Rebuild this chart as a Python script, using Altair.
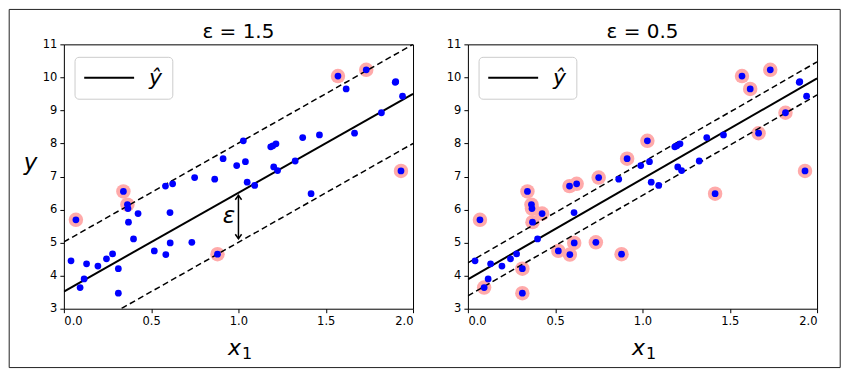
import altair as alt
import pandas as pd

# ---- data ----
x_vals = [0.749, 1.901, 1.464, 1.197, 0.312, 0.312, 0.116, 1.732, 1.202, 1.416,
          0.041, 1.940, 1.665, 0.425, 0.364, 0.367, 0.608, 1.050, 0.864, 0.582,
          1.224, 0.279, 0.584, 0.733, 0.912, 1.570, 0.399, 1.028, 1.185, 0.093,
          1.215, 0.341, 0.130, 1.898, 1.931, 1.617, 0.609, 0.195, 1.368, 0.880,
          0.244, 0.990, 0.069, 1.819, 0.518, 1.325, 0.623, 1.040, 1.093, 0.370]
y_vals = [6.97, 9.87, 8.26, 7.93, 4.21, 3.47, 3.90, 10.23, 7.29, 6.48,
          4.45, 9.43, 8.31, 5.88, 6.15, 6.03, 5.91, 6.83, 6.92, 6.71,
          7.18, 4.66, 4.64, 5.01, 7.54, 10.04, 5.11, 8.08, 7.90, 3.64,
          7.99, 6.55, 4.36, 9.85, 7.17, 9.65, 4.99, 4.29, 8.18, 4.65,
          4.51, 7.33, 5.69, 8.93, 4.75, 7.47, 6.78, 7.45, 6.73, 5.62]

sv_left = [42, 31, 14, 39, 25, 7, 34]
sv_right = [42, 29, 4, 5, 31, 14, 15, 49, 13, 44, 19, 22, 46, 36, 23, 0, 39,
            24, 27, 9, 25, 35, 12, 7, 43, 34]

line_x = [0.0, 2.0]
left_pred = [3.52, 9.50]
left_upper = [5.02, 11.00]
left_lower = [2.02, 8.00]
right_pred = [3.89, 9.97]
right_upper = [4.39, 10.47]
right_lower = [3.39, 9.47]

titles = ["ε = 1.5", "ε = 0.5"]
legend_label = "ŷ"
x_title = "x"
x_title_sub = "1"
y_title = "y"
x_ticks = [0.0, 0.5, 1.0, 1.5, 2.0]
y_ticks = [3, 4, 5, 6, 7, 8, 9, 10, 11]

eps_arrow_x = 1.0
eps_arrow_top = 6.43
eps_arrow_bottom = 5.12
eps_text_x = 0.91
eps_text_y = 5.6
eps_text = "ε"

points = pd.DataFrame({"x": x_vals, "y": y_vals})


def panel(title, pred, upper, lower, sv_idx, show_ytitle, annotate):
    x_enc = alt.X("x:Q", scale=alt.Scale(domain=[0, 2], nice=False, zero=False),
                  axis=alt.Axis(values=x_ticks, format=".1f", title=x_title,
                                titleFontSize=22, titleFontStyle="italic",
                                titleFontWeight="normal", titleBaseline="alphabetic",
                                titleAlign="left", titleX=164, titleY=45.5))
    y_axis = dict(values=y_ticks, format="d")
    if show_ytitle:
        y_axis.update(title=y_title, titleFontSize=23, titleFontStyle="italic",
                      titleFontWeight="normal", titleAngle=0, titleAlign="center",
                      titleBaseline="alphabetic", titleX=-34, titleY=125)
    else:
        y_axis.update(title=None)
    y_enc = alt.Y("y:Q", scale=alt.Scale(domain=[3, 11], nice=False, zero=False),
                  axis=alt.Axis(**y_axis))

    sv = points.iloc[sv_idx]
    pred_df = pd.DataFrame({"x": line_x, "y": pred, "series": [legend_label] * 2})
    dash_df = pd.DataFrame({"x": line_x * 2, "y": upper + lower,
                            "kind": ["upper"] * 2 + ["lower"] * 2})

    pink = alt.Chart(sv).mark_circle(size=210, color="#FFAAAA", opacity=1).encode(x=x_enc, y=y_enc)
    dashed = alt.Chart(dash_df).mark_line(strokeWidth=1.5, strokeDash=[6, 3.5],
                                          color="black", clip=True).encode(
        x=x_enc, y=y_enc, detail="kind:N")
    solid = alt.Chart(pred_df).mark_line(strokeWidth=2, clip=True).encode(
        x=x_enc, y=y_enc,
        color=alt.Color("series:N", scale=alt.Scale(domain=[legend_label], range=["black"]),
                        legend=alt.Legend(title=None, orient="none", legendX=10.7, legendY=12.5,
                                          symbolType="M -3 0 L 3 0", symbolSize=278,
                                          symbolOffset=13.7,
                                          symbolStrokeWidth=2, labelFontSize=22,
                                          labelFont="DejaVu Sans", labelFontStyle="italic",
                                          labelColor="black", labelOffset=29, padding=10,
                                          fillColor="rgba(255,255,255,0.8)",
                                          strokeColor="#cccccc", cornerRadius=4)))
    blue = alt.Chart(points).mark_circle(size=46, color="#0000FF", opacity=1).encode(x=x_enc, y=y_enc)
    ttl = alt.Chart(pd.DataFrame({"t": [title]})).mark_text(
        align="center", baseline="alphabetic", fontSize=20, font="DejaVu Sans",
        color="black").encode(x=alt.value(175), y=alt.value(-6.2), text="t:N")
    sub = alt.Chart(pd.DataFrame({"t": [x_title_sub]})).mark_text(
        align="left", baseline="alphabetic", fontSize=16, font="DejaVu Sans",
        color="black").encode(x=alt.value(178.5), y=alt.value(315.8), text="t:N")

    layers = [pink, dashed, solid, blue, ttl, sub]
    if annotate:
        arr = pd.DataFrame({"x": [eps_arrow_x], "y": [eps_arrow_top], "y2": [eps_arrow_bottom]})
        shaft = alt.Chart(arr).mark_rule(color="black", strokeWidth=1.5).encode(
            x=x_enc, y=y_enc, y2="y2:Q")
        top_head = alt.Chart(pd.DataFrame({"x": [eps_arrow_x], "y": [eps_arrow_top]})).mark_point(
            shape="M -1 1.4 L 0 0 L 1 1.4", size=40, filled=False, color="black",
            strokeWidth=1.5, opacity=1).encode(x=x_enc, y=y_enc)
        bot_head = alt.Chart(pd.DataFrame({"x": [eps_arrow_x], "y": [eps_arrow_bottom]})).mark_point(
            shape="M -1 -1.4 L 0 0 L 1 -1.4", size=40, filled=False, color="black",
            strokeWidth=1.5, opacity=1).encode(x=x_enc, y=y_enc)
        txt = alt.Chart(pd.DataFrame({"x": [eps_text_x], "y": [eps_text_y], "t": [eps_text]})).mark_text(
            align="left", baseline="alphabetic", fontSize=23, fontStyle="italic",
            font="DejaVu Sans", color="black").encode(x=x_enc, y=y_enc, text="t:N")
        frame = alt.Chart(pd.DataFrame({"a": [0]})).mark_rect(
            fill="white", fillOpacity=0, stroke="#222222", strokeWidth=1, clip=False).encode(
            x=alt.value(-54.8), x2=alt.value(778.2), y=alt.value(-35), y2=alt.value(324))
        layers = [frame] + layers + [shaft, top_head, bot_head, txt]

    return alt.layer(*layers).properties(width=350, height=265)


left = panel(titles[0], left_pred, left_upper, left_lower, sv_left, True, True)
right = panel(titles[1], right_pred, right_upper, right_lower, sv_right, False, False)

chart = alt.hconcat(left, right, spacing=55, bounds="flush").resolve_scale(
    color="independent").resolve_legend(color="independent").properties(
    padding=0, background="white").configure_view(
    stroke="black", strokeWidth=1).configure_axis(
    grid=False, domain=False, tickColor="black", tickSize=4, tickWidth=1,
    labelFont="DejaVu Sans", labelFontSize=11.5, labelColor="black", labelPadding=3,
    titleFont="DejaVu Sans", titleColor="black")

chart.save("out.html", embed_options={"renderer": "svg", "actions": False})
